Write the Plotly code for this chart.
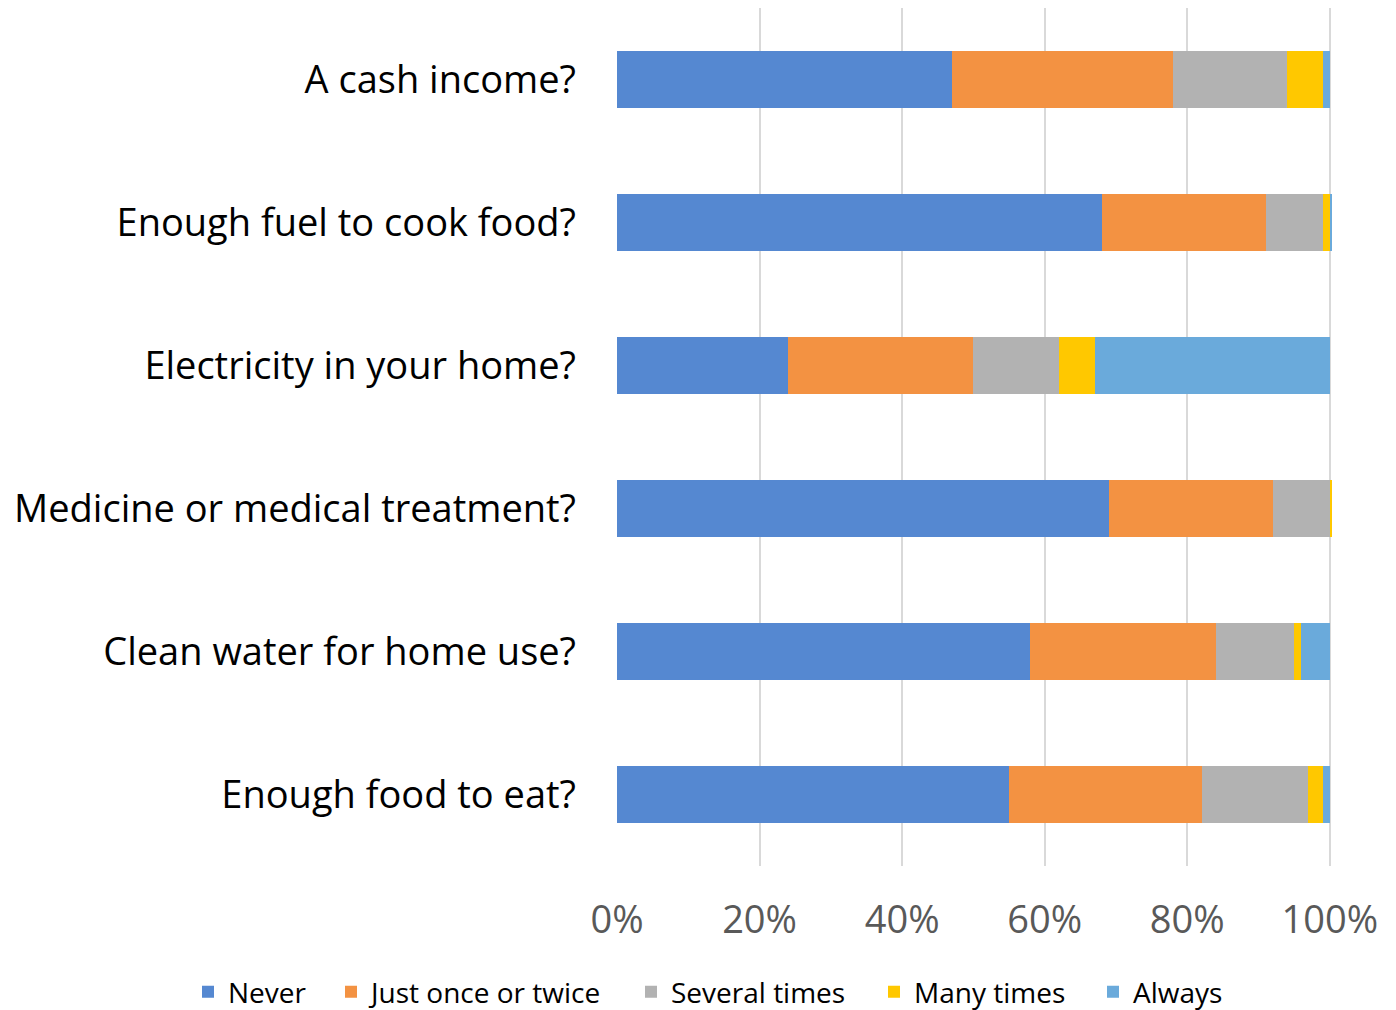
import plotly.graph_objects as go

# Survey questions, top to bottom
questions = [
    "A cash income?",
    "Enough fuel to cook food?",
    "Electricity in your home?",
    "Medicine or medical treatment?",
    "Clean water for home use?",
    "Enough food to eat?",
]

# Share of respondents (%) per answer
never = [47, 68, 24, 69, 58, 55]
once_or_twice = [31, 23, 26, 23, 26, 27]
several_times = [16, 8, 12, 8, 11, 15]
many_times = [5, 1, 5, 0.3, 1, 2]
always = [1, 0.3, 33, 0, 4, 1]

series = [
    ("Never", never, "#5588D1"),
    ("Just once or twice", once_or_twice, "#F39242"),
    ("Several times", several_times, "#B2B2B2"),
    ("Many times", many_times, "#FFC800"),
    ("Always", always, "#6AAADB"),
]

# Each answer gets its own legend box so the key entries can be spaced out
legend_ids = ["legend", "legend2", "legend3", "legend4", "legend5"]
legend_left_px = [188, 331, 631, 874, 1093]

PLOT_LEFT, PLOT_RIGHT = 617, 1332

fig = go.Figure()
for (name, vals, color), lid in zip(series, legend_ids):
    fig.add_trace(go.Bar(
        y=questions, x=vals, name=name, orientation="h",
        marker=dict(color=color, line=dict(width=0)),
        width=0.4, legend=lid, showlegend=True,
    ))

legend_style = dict(
    orientation="h", xanchor="left", y=-0.147, yanchor="middle",
    font=dict(size=28, color="#000000"), itemwidth=30,
    bgcolor="rgba(0,0,0,0)",
)
legends = {}
for lid, px in zip(legend_ids, legend_left_px):
    legends[lid] = dict(
        legend_style, x=(px - PLOT_LEFT) / (PLOT_RIGHT - PLOT_LEFT),
    )

fig.update_layout(
    barmode="stack",
    showlegend=True,
    width=1396, height=1010,
    margin=dict(l=PLOT_LEFT, r=1396 - PLOT_RIGHT, t=8, b=144, autoexpand=False),
    plot_bgcolor="white", paper_bgcolor="white",
    font=dict(family="Open Sans", color="#000000"),
    **legends,
)
fig.update_xaxes(
    range=[0, 100.3], tickvals=[0, 20, 40, 60, 80, 100],
    ticktext=["0%", "20%", "40%", "60%", "80%", "100%"],
    showgrid=True, gridcolor="#D9D9D9", gridwidth=2,
    zeroline=False, showline=False,
    tickfont=dict(size=38, color="#595959"),
    ticks="", ticklabelstandoff=28,
)
fig.update_yaxes(
    autorange="reversed", categoryorder="array", categoryarray=questions,
    showgrid=False, showline=False, ticks="",
    tickfont=dict(size=38, color="#000000"),
    ticklabelstandoff=40,
)

fig.write_html("out.html")
